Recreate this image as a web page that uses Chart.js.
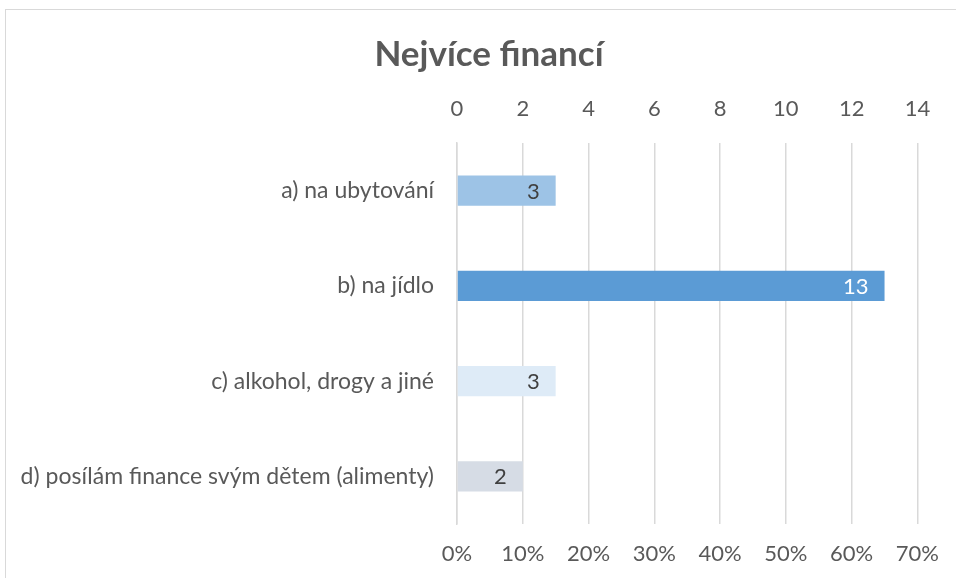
<!DOCTYPE html>
<html>
<head>
<meta charset="utf-8">
<script src="https://cdn.jsdelivr.net/npm/chart.js@4"></script>
<style>
  body { margin: 0; background: #fff; }
  #wrap { position: relative; width: 956px; height: 578px; overflow: hidden; }
  #frame { position: absolute; left: 5px; top: 9px; width: 1000px; height: 1000px; border: 1px solid #d9d9d9; }
  canvas { position: absolute; left: 0; top: 0; }
</style>
</head>
<body>
<div id="wrap">
  <div id="frame"></div>
  <canvas id="chart" width="956" height="578"></canvas>
</div>
<script>
// Categories and counts
const categories = [
  "a) na ubytování",
  "b) na jídlo",
  "c) alkohol, drogy a jiné",
  "d) posílám finance svým dětem (alimenty)"
];
const counts = [3, 13, 3, 2];
const barColors = ["#9DC3E6", "#5B9BD5", "#DEEBF7", "#D6DCE5"];
const labelColors = ["#404040", "#ffffff", "#404040", "#404040"];
const countTicks = [0, 2, 4, 6, 8, 10, 12, 14];
const percentTicks = [0, 10, 20, 30, 40, 50, 60, 70];
const titleText = "Nejvíce financí";

const FONT = "Lato, 'Open Sans', sans-serif";
const TEXT = "#595959";

// title drawn by hand so it can sit a bit right of the canvas centre, like the original
const chartTitle = {
  id: "chartTitle",
  afterDraw(chart) {
    const ctx = chart.ctx;
    ctx.save();
    ctx.font = "bold 35px " + FONT;
    ctx.fillStyle = TEXT;
    ctx.textAlign = "center";
    ctx.textBaseline = "middle";
    ctx.fillText(titleText, 489, 55);
    ctx.restore();
  }
};

// draws the value at the end of each bar
const valueLabels = {
  id: "valueLabels",
  afterDatasetsDraw(chart) {
    const ctx = chart.ctx;
    const meta = chart.getDatasetMeta(0);
    ctx.save();
    ctx.font = "22px " + FONT;
    ctx.textAlign = "right";
    ctx.textBaseline = "middle";
    meta.data.forEach((bar, i) => {
      ctx.fillStyle = labelColors[i];
      ctx.fillText(String(counts[i]), bar.x - 16, bar.y + 1);
    });
    ctx.restore();
  }
};

new Chart(document.getElementById("chart").getContext("2d"), {
  type: "bar",
  data: {
    labels: categories,
    datasets: [{
      data: counts,
      backgroundColor: barColors,
      barPercentage: 0.5,
      categoryPercentage: 0.63,
      xAxisID: "x"
    }]
  },
  options: {
    indexAxis: "y",
    responsive: false,
    animation: false,
    layout: { padding: { left: 0, right: 37, top: 73, bottom: 0 } },
    plugins: {
      legend: { display: false },
      tooltip: { enabled: false },
      title: { display: false }
    },
    scales: {
      x: {
        position: "top",
        min: 0,
        max: 14,
        afterBuildTicks: s => { s.ticks = countTicks.map(v => ({ value: v })); },
        afterFit: s => { s.height = 70; },
        grid: { color: "#d9d9d9", lineWidth: 1.5, drawTicks: false },
        border: { display: false },
        ticks: { color: TEXT, padding: 21, font: { family: FONT, size: 22 } }
      },
      x2: {
        position: "bottom",
        min: 0,
        max: 70,
        afterBuildTicks: s => { s.ticks = percentTicks.map(v => ({ value: v })); },
        afterFit: s => { s.height = 54; },
        grid: { display: false, drawTicks: false },
        border: { display: false },
        ticks: {
          color: TEXT,
          padding: 17,
          font: { family: FONT, size: 22 },
          callback: v => v + "%"
        }
      },
      y: {
        afterFit: s => { s.width = 457; },
        grid: { display: false, drawTicks: false },
        border: { display: true, color: "#d9d9d9", width: 1.5 },
        ticks: { color: TEXT, padding: 23, font: { family: FONT, size: 23 } }
      }
    }
  },
  plugins: [valueLabels, chartTitle]
});
</script>
</body>
</html>
